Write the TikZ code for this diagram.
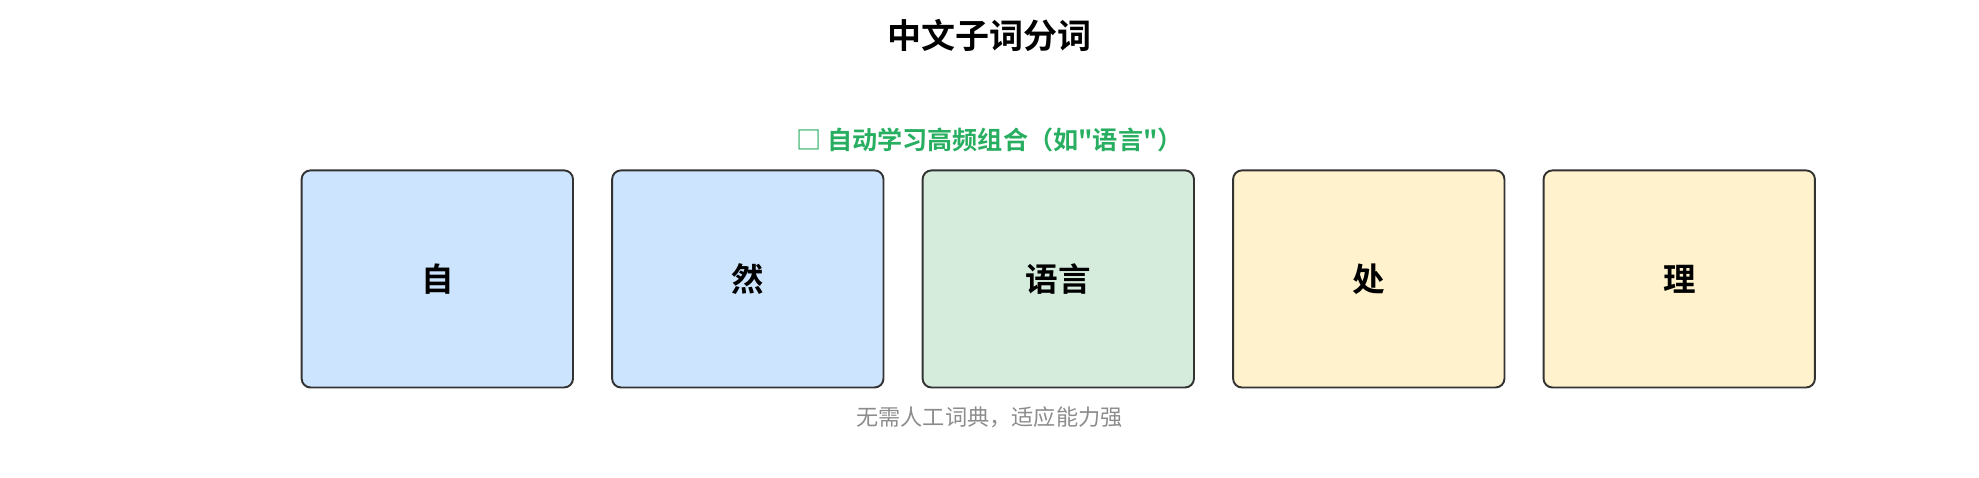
\documentclass[tikz,border=0pt]{standalone}
\usepackage{fontspec}
\newfontfamily\cjk{Noto Sans CJK SC}
\newfontfamily\cjkb{Noto Sans CJK SC Bold}
\begin{document}
\begin{tikzpicture}[x=0.03cm,y=-0.03cm,
  cell/.style={draw=black!80,line width=1.3pt,rounded corners=6pt,minimum width=215*0.03cm,minimum height=172*0.03cm,font=\cjkb\fontsize{22pt}{22pt}\selectfont},
  blue/.style={fill={rgb,255:red,204;green,228;blue,253}},
  green/.style={fill={rgb,255:red,213;green,236;blue,220}},
  yellow/.style={fill={rgb,255:red,255;green,242;blue,204}}]
\useasboundingbox (0,0) rectangle (1568,378);
\node (title) at (784,28) {\cjkb\fontsize{23pt}{23pt}\selectfont 中文子词分词};
\node (label) at (784,111) [text={rgb,255:red,39;green,174;blue,96}] {\cjkb\fontsize{17pt}{17pt}\selectfont □ 自动学习高频组合（如"语言"）};
\node[cell,blue] (c1) at (346.5,221) {自};
\node[cell,blue] (c2) at (592.5,221) {然};
\node[cell,green] (c3) at (838.5,221) {语言};
\node[cell,yellow] (c4) at (1084.5,221) {处};
\node[cell,yellow] (c5) at (1330.5,221) {理};
\node (cap) at (784,331) [text=black!45] {\cjk\fontsize{15pt}{15pt}\selectfont 无需人工词典，适应能力强};
\end{tikzpicture}
\end{document}
